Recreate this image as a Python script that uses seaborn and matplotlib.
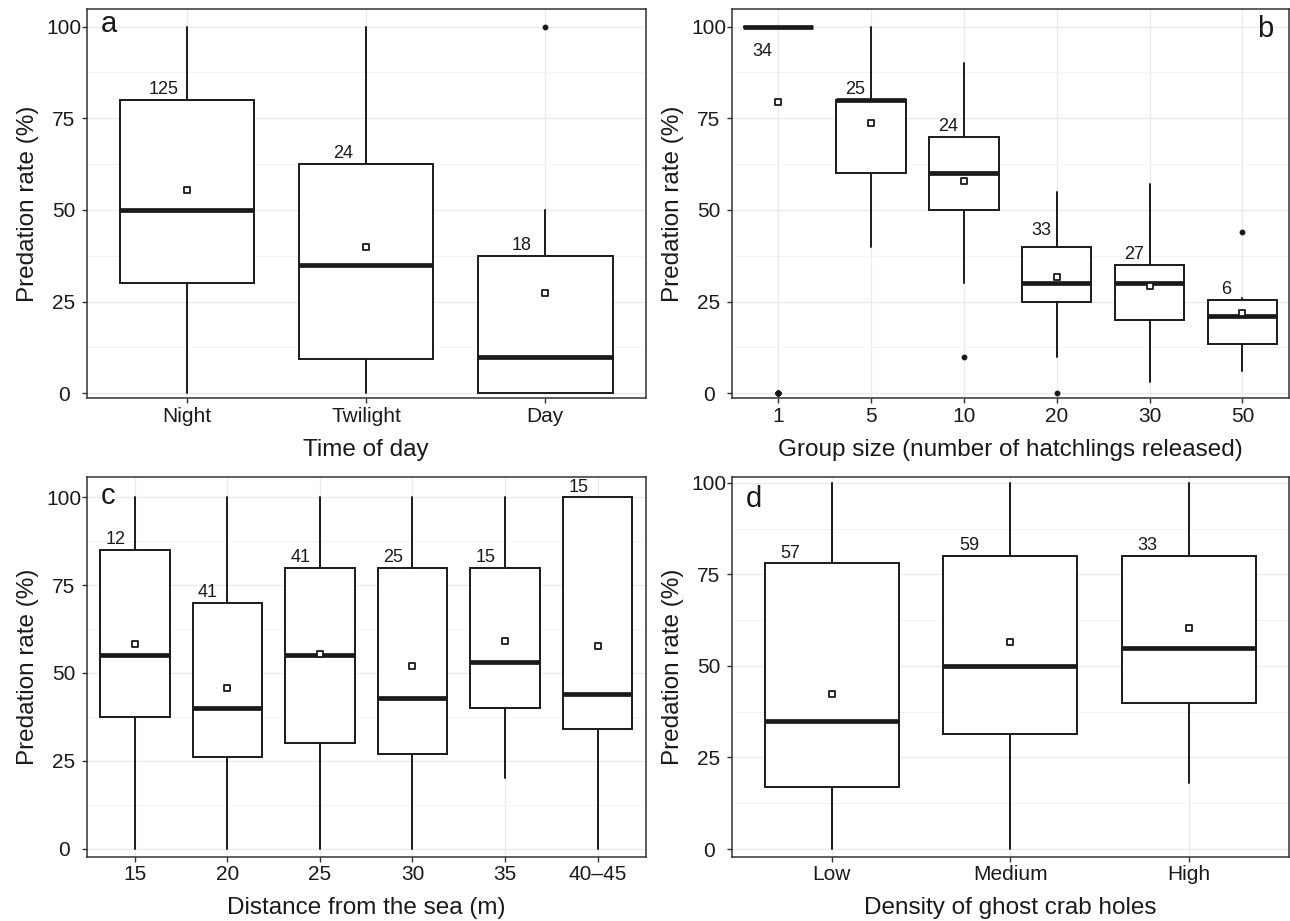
import matplotlib
matplotlib.use("Agg")
import matplotlib.pyplot as plt
import seaborn as sns
import numpy as np

# ---------------- data ----------------
# Panel a: time of day
a_cats = ["Night", "Twilight", "Day"]
a_n = [125, 24, 18]
a_q1 = [30, 9.3, 0]
a_med = [50, 35, 10]
a_q3 = [80, 62.5, 37.5]
a_lo = [0, 0, 0]
a_hi = [100, 100, 50]
a_mean = [55.5, 39.8, 27.4]
a_out = [[], [], [100]]

# Panel b: group size
b_cats = ["1", "5", "10", "20", "30", "50"]
b_n = [34, 25, 24, 33, 27, 6]
b_q1 = [100, 60, 50, 25, 20, 13.5]
b_med = [100, 80, 60, 30, 30, 21]
b_q3 = [100, 80, 70, 40, 35, 25.5]
b_lo = [100, 40, 30, 10, 3, 6]
b_hi = [100, 100, 90, 55, 57, 26]
b_mean = [79.3, 73.6, 57.8, 31.7, 29.3, 21.8]
b_out = [[0, 0, 0, 0, 0, 0, 0], [], [10], [0], [], [44]]

# Panel c: distance from the sea
c_cats = ["15", "20", "25", "30", "35", "40\u201345"]
c_n = [12, 41, 41, 25, 15, 15]
c_q1 = [37.5, 26, 30, 27, 40, 34]
c_med = [55, 40, 55, 43, 53, 44]
c_q3 = [85, 70, 80, 80, 80, 100]
c_lo = [0, 0, 0, 0, 20, 0]
c_hi = [100, 100, 100, 100, 100, 100]
c_mean = [58.2, 45.8, 55.3, 52.1, 59.0, 57.6]
c_out = [[], [], [], [], [], []]

# Panel d: density of ghost crab holes
d_cats = ["Low", "Medium", "High"]
d_n = [57, 59, 33]
d_q1 = [17, 31.4, 40]
d_med = [35, 50, 55]
d_q3 = [78, 80, 80]
d_lo = [0, 0, 18]
d_hi = [100, 100, 100]
d_mean = [42.3, 56.5, 60.3]
d_out = [[], [], []]

# ---------------- style ----------------
sns.set_theme(style="whitegrid")
plt.rcParams["font.family"] = ["Liberation Sans", "DejaVu Sans"]

INK = "#1a1a1a"
FRAME = "#333333"

fig = plt.figure(figsize=(12.90, 9.21), dpi=100)
W, H = 1290.0, 921.0


def add_axes(left, top, right, bottom):
    return fig.add_axes([left / W, 1 - bottom / H, (right - left) / W, (bottom - top) / H])


panels = [
    dict(ax=add_axes(86.7, 9.3, 645.7, 398.3), cats=a_cats, n=a_n, q1=a_q1, med=a_med, q3=a_q3,
         lo=a_lo, hi=a_hi, mean=a_mean, out=a_out, xlabel="Time of day", letter="a",
         ylim=(-1.4, 104.7), xpad=0.56, ndx=-0.13, letter_pos=(0.025, 0.942, "left")),
    dict(ax=add_axes(731.7, 9.3, 1288.8, 398.3), cats=b_cats, n=b_n, q1=b_q1, med=b_med, q3=b_q3,
         lo=b_lo, hi=b_hi, mean=b_mean, out=b_out, xlabel="Group size (number of hatchlings released)",
         letter="b", ylim=(-1.4, 104.7), xpad=0.5, ndx=-0.17, letter_pos=(0.973, 0.928, "right")),
    dict(ax=add_axes(86.7, 477.3, 645.7, 856.7), cats=c_cats, n=c_n, q1=c_q1, med=c_med, q3=c_q3,
         lo=c_lo, hi=c_hi, mean=c_mean, out=c_out, xlabel="Distance from the sea (m)", letter="c",
         ylim=(-2.3, 105.7), xpad=0.52, ndx=-0.21, letter_pos=(0.025, 0.93, "left")),
    dict(ax=add_axes(731.7, 477.3, 1288.8, 856.7), cats=d_cats, n=d_n, q1=d_q1, med=d_med, q3=d_q3,
         lo=d_lo, hi=d_hi, mean=d_mean, out=d_out, xlabel="Density of ghost crab holes", letter="d",
         ylim=(-2.1, 101.5), xpad=0.56, ndx=-0.23, letter_pos=(0.025, 0.922, "left")),
]

# vertical nudges (points) of the n labels relative to the top of the box
nudge = {("b", 0): -21.5, ("b", 3): 8.5}

for p in panels:
    ax = p["ax"]
    k = len(p["cats"])
    pos = np.arange(k)
    stats = []
    for i in range(k):
        stats.append(dict(med=p["med"][i], q1=p["q1"][i], q3=p["q3"][i],
                          whislo=p["lo"][i], whishi=p["hi"][i], fliers=p["out"][i]))
    ax.bxp(stats, positions=pos, widths=0.75, showcaps=False, patch_artist=True,
           boxprops=dict(facecolor="white", edgecolor=INK, linewidth=1.4),
           medianprops=dict(color=INK, linewidth=3.4, solid_capstyle="butt"),
           whiskerprops=dict(color=INK, linewidth=1.4),
           flierprops=dict(marker="o", markerfacecolor=INK, markeredgecolor=INK,
                           markersize=3.2, linestyle="none"),
           zorder=3)
    sns.scatterplot(x=pos, y=p["mean"], marker="s", s=20, facecolor="white",
                    edgecolor=INK, linewidth=1.3, ax=ax, zorder=5, legend=False)

    for i in range(k):
        dy = nudge.get((p["letter"], i), 4.0)
        ax.annotate(str(p["n"][i]), xy=(pos[i] + p["ndx"], p["q3"][i]),
                    xytext=(0, dy), textcoords="offset points",
                    ha="center", va="baseline", fontsize=13, color=INK, zorder=6)

    ax.set_xlim(-p["xpad"], k - 1 + p["xpad"])
    ax.set_ylim(*p["ylim"])
    ax.set_xticks(pos)
    ax.set_xticklabels(p["cats"])
    ax.set_yticks([0, 25, 50, 75, 100])
    ax.set_yticks([12.5, 37.5, 62.5, 87.5], minor=True)
    ax.set_facecolor("white")
    ax.grid(False)
    ax.grid(which="major", axis="both", color="#ebebeb", linewidth=1.0, zorder=0)
    ax.grid(which="minor", axis="y", color="#f3f3f3", linewidth=0.7, zorder=0)
    ax.set_axisbelow(True)
    for s in ax.spines.values():
        s.set_visible(True)
        s.set_color(FRAME)
        s.set_linewidth(1.1)
    ax.tick_params(axis="both", which="major", length=3.8, width=1.0, color=FRAME,
                   labelsize=15, labelcolor=INK, bottom=True, left=True)
    ax.tick_params(axis="x", which="major", pad=2.5)
    ax.tick_params(axis="y", which="major", pad=12.8)
    for lab in ax.get_yticklabels():
        lab.set_horizontalalignment("center")
    ax.tick_params(axis="both", which="minor", length=0)
    ax.set_xlabel(p["xlabel"], fontsize=17.5, color=INK, labelpad=9)
    ax.set_ylabel("Predation rate (%)", fontsize=17.5, color=INK, labelpad=5)
    lx, ly, lha = p["letter_pos"]
    ax.text(lx, ly, p["letter"], transform=ax.transAxes, fontsize=21, color=INK,
            ha=lha, va="baseline", zorder=7)

fig.savefig("out.png", dpi=100, facecolor="white")
